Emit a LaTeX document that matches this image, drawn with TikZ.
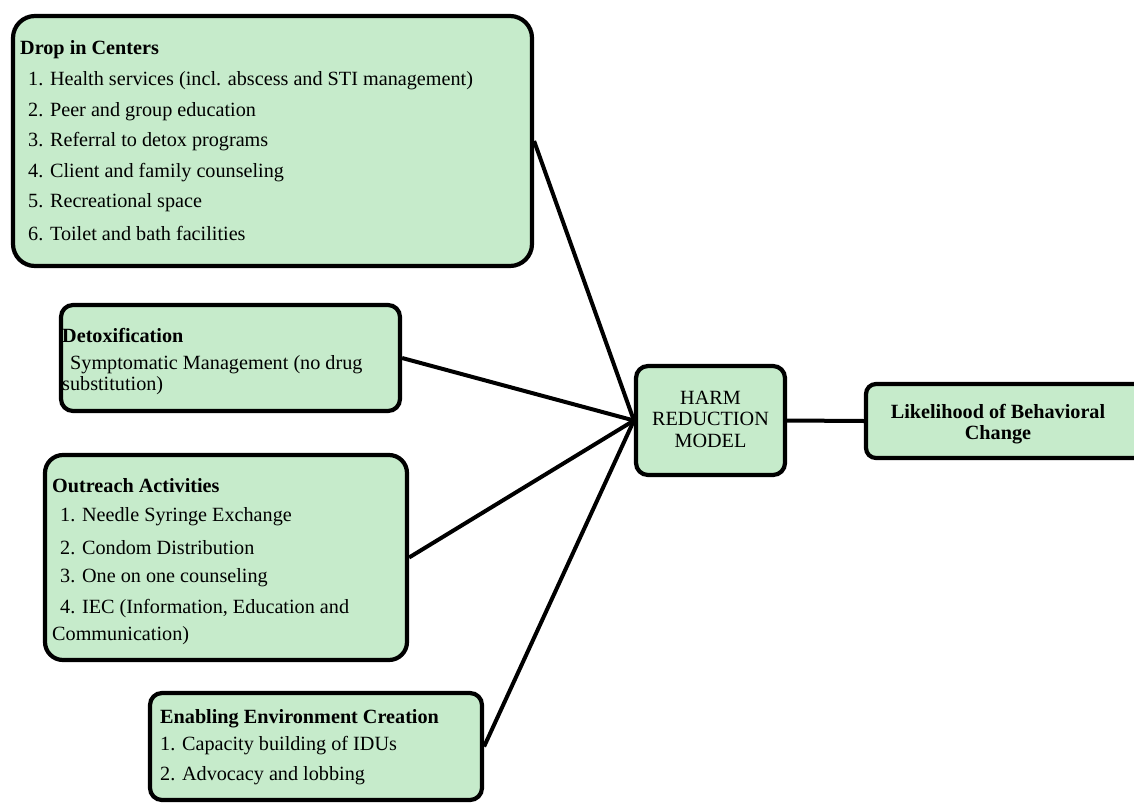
\documentclass[tikz,border=0pt]{standalone}
\usepackage{fontspec}
\setmainfont{Liberation Serif}
\definecolor{boxgreen}{RGB}{198,235,203}
\begin{document}
\begin{tikzpicture}[x=1pt,y=-1pt,
  box/.style={draw=black, fill=boxgreen, line width=4.2pt, rectangle, inner sep=0pt},
  ttl/.style={anchor=west, inner sep=0pt, font=\fontsize{20.2}{24}\selectfont\bfseries},
  itm/.style={anchor=west, inner sep=0pt, font=\fontsize{20.2}{24}\selectfont},
  conn/.style={draw=black, line width=4pt}]
\useasboundingbox (0,0) rectangle (1134,803);
\clip (0,0) rectangle (1134,803);
% boxes
\node[box, minimum width=519pt, minimum height=250pt, rounded corners=22pt] (b1) at (272.5,141) {};
\node[box, minimum width=339pt, minimum height=106pt, rounded corners=12pt] (b2) at (230.5,358) {};
\node[box, minimum width=362pt, minimum height=205pt, rounded corners=18pt] (b3) at (226,557.5) {};
\node[box, minimum width=332pt, minimum height=107pt, rounded corners=12pt] (b4) at (316,746.5) {};
\node[box, minimum width=149pt, minimum height=109pt, rounded corners=12pt] (harm) at (710.5,420.5) {};
\node[box, minimum width=290pt, minimum height=74pt, rounded corners=10pt] (lik) at (1011,421) {};
% connectors
\draw[conn] (b1.east) -- (harm.west);
\draw[conn] (b2.east) -- (harm.west);
\draw[conn] (b3.east) -- (harm.west);
\draw[conn] (b4.east) -- (harm.west);
\draw[conn] (harm.east) -- (lik.west);
% box 1 text
\node[ttl] (t1) at (20,50) {Drop in Centers};
\node[itm] (t1a) at (28,81) {1. Health services (incl. abscess and STI management)};
\node[itm] (t1b) at (28,112) {2. Peer and group education};
\node[itm] (t1c) at (28,142) {3. Referral to detox programs};
\node[itm] (t1d) at (28,173) {4. Client and family counseling};
\node[itm] (t1e) at (28,203) {5. Recreational space};
\node[itm] (t1f) at (28,234) {6. Toilet and bath facilities};
% box 2 text
\node[ttl] (t2) at (62,335) {Detoxification};
\node[itm] (t2a) at (70,365) {Symptomatic Management (no drug};
\node[itm] (t2b) at (62,386) {substitution)};
% box 3 text
\node[ttl] (t3) at (52,486) {Outreach Activities};
\node[itm] (t3a) at (60,517) {1. Needle Syringe Exchange};
\node[itm] (t3b) at (60,548) {2. Condom Distribution};
\node[itm] (t3c) at (60,578) {3. One on one counseling};
\node[itm] (t3d) at (60,609) {4. IEC (Information, Education and};
\node[itm] (t3e) at (52,636) {Communication)};
% box 4 text
\node[ttl] (t4) at (160,719) {Enabling Environment Creation};
\node[itm] (t4a) at (160,746) {1. Capacity building of IDUs};
\node[itm] (t4b) at (160,776) {2. Advocacy and lobbing};
% centre texts
\node[inner sep=0pt, align=center, font=\fontsize{20.2}{21.5}\selectfont] (harmtxt) at (710.5,419) {HARM\\REDUCTION\\MODEL};
\node[inner sep=0pt, align=center, font=\fontsize{20.2}{21.5}\selectfont\bfseries] (liktxt) at (998,424) {Likelihood of Behavioral\\Change};
\end{tikzpicture}
\end{document}
